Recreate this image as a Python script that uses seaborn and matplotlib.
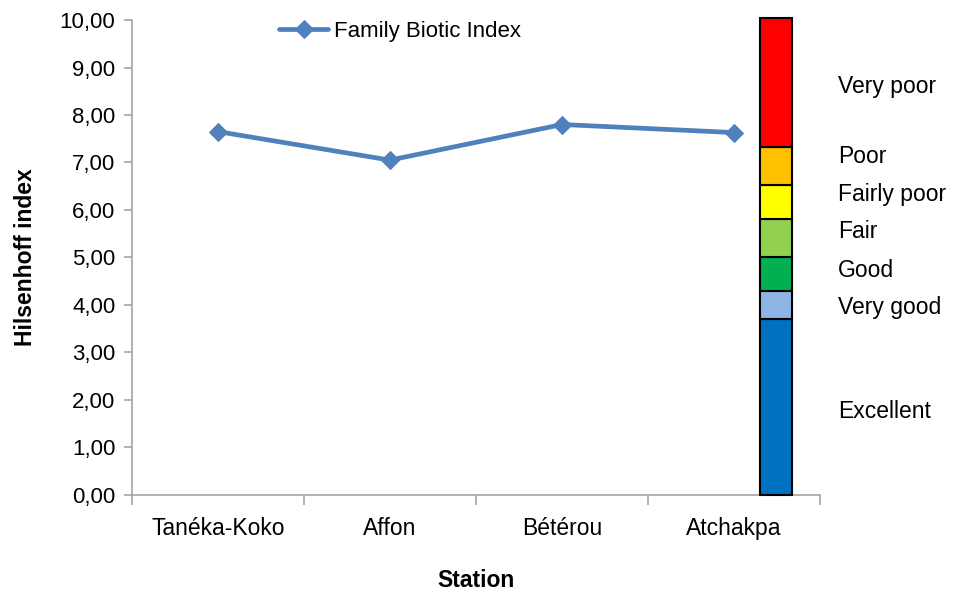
import matplotlib
matplotlib.use("Agg")
import matplotlib.pyplot as plt
from matplotlib.ticker import FuncFormatter, FixedLocator, NullFormatter
import seaborn as sns
import pandas as pd

# data
stations = ["Tanéka-Koko", "Affon", "Bétérou", "Atchakpa"]
fbi_values = [7.65, 7.05, 7.80, 7.63]

class_names = ["Excellent", "Very good", "Good", "Fair", "Fairly poor", "Poor", "Very poor"]
class_tops = [3.70, 4.30, 5.02, 5.80, 6.52, 7.32, 10.05]
class_colors = ["#0070C0", "#8EB4E3", "#00B050", "#92D050", "#FFFF00", "#FFC000", "#FF0000"]
label_y = [1.75, 3.94, 4.72, 5.54, 6.32, 7.12, 8.59]

sns.set_theme(style="white")
plt.rcParams["font.family"] = ["Liberation Sans", "DejaVu Sans"]
plt.rcParams["text.color"] = "black"
plt.rcParams["axes.labelcolor"] = "black"
plt.rcParams["xtick.color"] = "black"
plt.rcParams["ytick.color"] = "black"

df = pd.DataFrame({"Station": stations, "FBI": fbi_values})

fig = plt.figure(figsize=(9.54, 5.92), dpi=100)
ax = fig.add_axes([0.1384, 0.1639, 0.7211, 0.8023])

sns.lineplot(data=df, x="Station", y="FBI", ax=ax, color="#4F81BD", linewidth=3.4,
             marker="D", markersize=9.5, markeredgecolor="#4F81BD",
             label="Family Biotic Index", sort=False)

# stacked class bar next to the last station
bottom = 0
for name, top, col in zip(class_names, class_tops, class_colors):
    ax.bar(3.244, top - bottom, bottom=bottom, width=0.186, color=col,
           edgecolor="black", linewidth=1.5, clip_on=False, zorder=3)
    bottom = top

for name, yv in zip(class_names, label_y):
    ax.text(3.605, yv, name, fontsize=16.5, va="center", ha="left")

ax.set_xlim(-0.5, 3.5)
ax.set_ylim(0, 10)
ax.yaxis.set_major_locator(FixedLocator([i for i in range(11)]))
ax.yaxis.set_major_formatter(FuncFormatter(lambda v, p: "{:.2f}".format(v).replace(".", ",")))

# category labels centred, ticks between categories
ax.set_xticks([0, 1, 2, 3])
ax.set_xticklabels(stations)
ax.set_xticks([-0.5, 0.5, 1.5, 2.5, 3.5], minor=True)
ax.xaxis.set_minor_formatter(NullFormatter())
ax.tick_params(axis="x", which="major", length=0, pad=16, labelsize=16.5)
ax.tick_params(axis="x", which="minor", length=7, width=1.2, color="#A6A6A6", bottom=True)
ax.tick_params(axis="y", which="major", length=6, width=1.2, color="#A6A6A6",
               labelcolor="black", labelsize=16, pad=6, left=True)

sns.despine(ax=ax)
for s in ["left", "bottom"]:
    ax.spines[s].set_color("#A6A6A6")
    ax.spines[s].set_linewidth(1.2)

ax.set_xlabel("Station", fontsize=16.5, fontweight="bold", labelpad=21)
ax.set_ylabel("Hilsenhoff index", fontsize=16.5, fontweight="bold", labelpad=16)

ax.legend(loc="upper left", bbox_to_anchor=(0.185, 1.04), frameon=False,
          fontsize=16, handlelength=2.2, handletextpad=0.25)

fig.savefig("out.png", dpi=100)
